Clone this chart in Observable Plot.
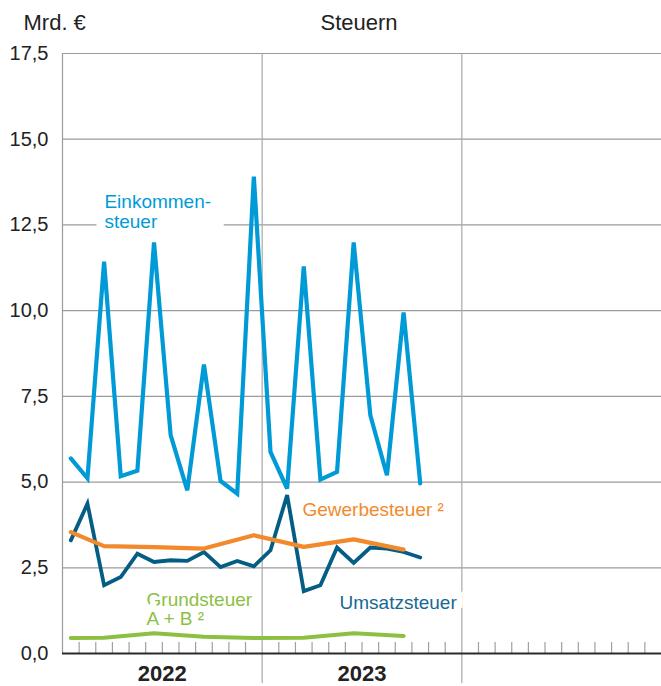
<!DOCTYPE html>
<html>
<head>
<meta charset="utf-8">
<script src="https://cdn.jsdelivr.net/npm/d3@7"></script>
<script src="https://cdn.jsdelivr.net/npm/@observablehq/plot@0.6"></script>
<style>
  html, body { margin: 0; padding: 0; background: #fff; }
  svg { display: block; }
</style>
</head>
<body>
<div id="chart"></div>
<script>
// ---- Data ----
const years = ["2022", "2023", "2024"];
const monthNames = ["Jan", "Feb", "Mär", "Apr", "Mai", "Jun", "Jul", "Aug", "Sep", "Okt", "Nov", "Dez"];

// Monthly observations Jan 2022 .. Okt 2023
const monthlyPeriods = [
  "2022-Jan","2022-Feb","2022-Mär","2022-Apr","2022-Mai","2022-Jun","2022-Jul","2022-Aug","2022-Sep","2022-Okt","2022-Nov","2022-Dez",
  "2023-Jan","2023-Feb","2023-Mär","2023-Apr","2023-Mai","2023-Jun","2023-Jul","2023-Aug","2023-Sep","2023-Okt"
];
const einkommensteuer = [5.69, 5.11, 11.43, 5.17, 5.33, 11.99, 6.37, 4.76, 8.43, 5.03, 4.66, 13.91,
                         5.88, 4.81, 11.29, 5.07, 5.30, 11.99, 6.95, 5.20, 9.95, 4.96];
const umsatzsteuer    = [3.30, 4.37, 1.99, 2.23, 2.91, 2.67, 2.72, 2.70, 2.96, 2.52, 2.70, 2.54,
                         3.01, 4.62, 1.82, 1.99, 3.09, 2.64, 3.09, 3.06, 2.96, 2.80];

// Quarterly observations
const quarterlyPeriods = ["2022-Jan","2022-Mär","2022-Jun","2022-Sep","2022-Dez","2023-Mär","2023-Jun","2023-Sep"];
const gewerbesteuer = [3.54, 3.13, 3.10, 3.06, 3.45, 3.11, 3.33, 3.03];
const grundsteuer   = [0.45, 0.46, 0.59, 0.49, 0.45, 0.46, 0.59, 0.51];

const yTicks = [0, 2.5, 5, 7.5, 10, 12.5, 15, 17.5];
const unitLabel = "Mrd. €";
const title = "Steuern";

// Series labels
const labelTexts = ["Einkommen-\nsteuer", "Gewerbesteuer ²", "Umsatzsteuer", "Grundsteuer\nA + B ²"];

// ---- helpers ----
function periodIndex(p) {
  const [y, m] = p.split("-");
  return years.indexOf(y) * 12 + monthNames.indexOf(m);
}
const mid = p => periodIndex(p) + 0.5;
const fmt = d => d.toFixed(1).replace(".", ",");

const monthly = monthlyPeriods.map((p, i) => ({x: mid(p), ein: einkommensteuer[i], ums: umsatzsteuer[i]}));
const quarterly = quarterlyPeriods.map((p, i) => ({x: mid(p), gew: gewerbesteuer[i], grund: grundsteuer[i]}));

const monthBoundaries = d3.range(1, years.length * 12).filter(m => m % 12 !== 0);
const yearBoundaries = d3.range(1, years.length).map(k => k * 12);
const yearCenters = years.map((y, k) => ({x: k * 12 + 6, label: y})).filter(d => d.label !== "2024");

const colors = {
  ein: "#009bd6",
  ums: "#045d84",
  gew: "#f28a2c",
  grund: "#8cc043"
};

const labels = [
  {text: labelTexts[0], x: 2.52, y: 12.40, color: colors.ein, lh: 1.06},
  {text: labelTexts[1], x: 14.42, y: 4.00, color: colors.gew, lh: 1.05},
  {text: labelTexts[2], x: 16.65, y: 1.31, color: "#17698f", lh: 1.05},
  {text: labelTexts[3], x: 5.05, y: 0.82, color: colors.grund, lh: 1.0}
];
// white box behind the "Einkommensteuer" label (annotation box relative to label anchor)
const einkBox = [{x1: labels[0].x - 0.45, x2: labels[0].x + 7.2, y1: labels[0].y - 0.25, y2: labels[0].y + 0.35}];

const font = "'Liberation Sans', Arial, Helvetica, sans-serif";

const chart = Plot.plot({
  width: 661,
  height: 686,
  marginTop: 53,
  marginBottom: 3,
  marginLeft: 62,
  marginRight: 0,
  style: {fontFamily: font, color: "#222", background: "#fff", overflow: "visible"},
  x: {domain: [0, years.length * 12], axis: null},
  y: {domain: [0, 17.5], range: [653, 53], axis: null},
  marks: [
    // grid
    Plot.ruleY(yTicks, {stroke: "#9b9b9b", strokeWidth: 1.2}),
    Plot.ruleX([0], {y1: 0, y2: 17.5, stroke: "#9b9b9b", strokeWidth: 1.2}),
    Plot.ruleX(yearBoundaries, {stroke: "#a8a8a8", strokeWidth: 1.2}),
    Plot.ruleX(monthBoundaries, {y1: 0, y2: 0, insetTop: -11, stroke: "#a0a0a0", strokeWidth: 1.2}),
    Plot.ruleY([0], {stroke: "#2a2a2a", strokeWidth: 2}),
    // y tick labels
    Plot.text(yTicks, {x: 0, y: d => d, text: fmt, textAnchor: "end", dx: -14, fontSize: 20, fill: "#222"}),
    // year labels
    Plot.text(yearCenters, {x: "x", y: 0, text: "label", dy: 20, fontSize: 22, fontWeight: "bold", fill: "#222"}),
    // titles
    Plot.text([unitLabel], {frameAnchor: "top-left", textAnchor: "start", lineAnchor: "bottom", dx: -39, dy: -24, fontSize: 22, fill: "#222"}),
    Plot.text([title], {frameAnchor: "top", textAnchor: "middle", lineAnchor: "bottom", dx: -3, dy: -24, fontSize: 22, fill: "#222"}),
    // label background box
    Plot.rect(einkBox, {x1: "x1", x2: "x2", y1: "y1", y2: "y2", fill: "white"}),
    // series labels with white halo
    ...labels.map(l => Plot.text([l], {x: "x", y: "y", text: "text", textAnchor: "start", lineAnchor: "bottom",
      lineHeight: l.lh, fontSize: 19, fill: l.color, stroke: "white", strokeWidth: 12, strokeLinejoin: "miter"})),
    // data lines
    Plot.line(quarterly, {x: "x", y: "grund", stroke: colors.grund, strokeWidth: 4}),
    Plot.line(monthly, {x: "x", y: "ums", stroke: colors.ums, strokeWidth: 3.8, strokeLinejoin: "miter", strokeMiterlimit: 4}),
    Plot.line(monthly, {x: "x", y: "ein", stroke: colors.ein, strokeWidth: 4.2, strokeLinejoin: "miter", strokeMiterlimit: 4}),
    Plot.line(quarterly, {x: "x", y: "gew", stroke: colors.gew, strokeWidth: 4.2})
  ]
});

document.getElementById("chart").appendChild(chart);
</script>
</body>
</html>
